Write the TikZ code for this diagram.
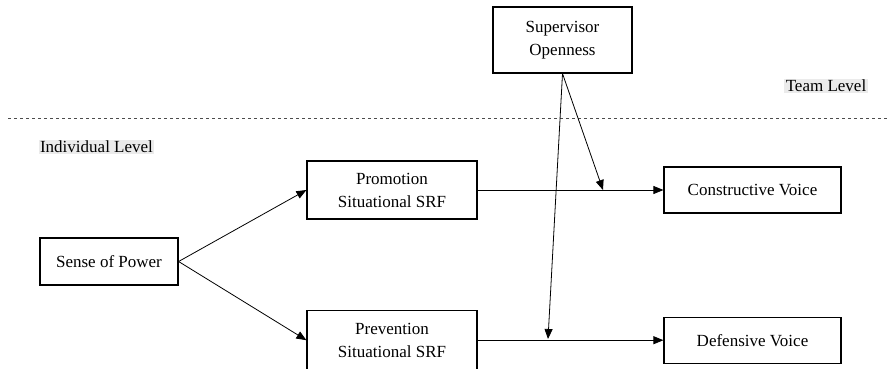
\documentclass[tikz,border=0pt]{standalone}
\usepackage{fontspec}
\setmainfont{Liberation Serif}
\usepackage{tikz}
\usetikzlibrary{arrows.meta, positioning}

\begin{document}
\begin{tikzpicture}[
  x=1pt, y=1pt,
  font=\fontsize{17}{23}\selectfont,
  box/.style={draw, line width=1.2pt, inner sep=2pt, align=center},
  lvl/.style={fill=black!8, inner sep=1.5pt},
  arr/.style={-{Triangle[length=10pt, width=8pt]}, line width=0.8pt},
]
  \useasboundingbox (0,0) rectangle (888,-368);

  % level split
  \coordinate (dl) at (8,-118);
  \coordinate (dr) at (888,-118);
  \draw[black!70, line width=0.9pt, dash pattern=on 3pt off 3pt] (dl) -- (dr);
  \node[lvl] (team)  at (826,-86)   {Team Level};
  \node[lvl] (indiv) at (96.5,-147) {Individual Level};

  \node[box, minimum width=139pt, minimum height=66pt] (sup) at (562.5,-40) {Supervisor\\Openness};
  \node[box, minimum width=138pt, minimum height=47pt] (sop) at (109,-261.5) {Sense of Power};
  \node[box, minimum width=170pt, minimum height=58pt] (pro) at (392,-190) {Promotion\\Situational SRF};
  \node[box, minimum width=170pt, minimum height=60pt, below=90pt of pro] (pre) {Prevention\\Situational SRF};
  \node[box, minimum width=177pt, minimum height=46pt] (con) at (752.5,-190) {Constructive Voice};
  \node[box, minimum width=177pt, minimum height=46pt, below=103pt of con] (def) {Defensive Voice};

  \coordinate (mc) at (603,-190);
  \coordinate (md) at (548,-339);

  \draw[arr] (sop.east) -- (pro.west);
  \draw[arr] (sop.east) -- (pre.west);
  \draw[arr] (pro.east) -- (con.west);
  \draw[arr] (pre.east) -- (def.west);
  \draw[arr] (sup.south) -- (mc);
  \draw[arr] (sup.south) -- (md);
\end{tikzpicture}
\end{document}
